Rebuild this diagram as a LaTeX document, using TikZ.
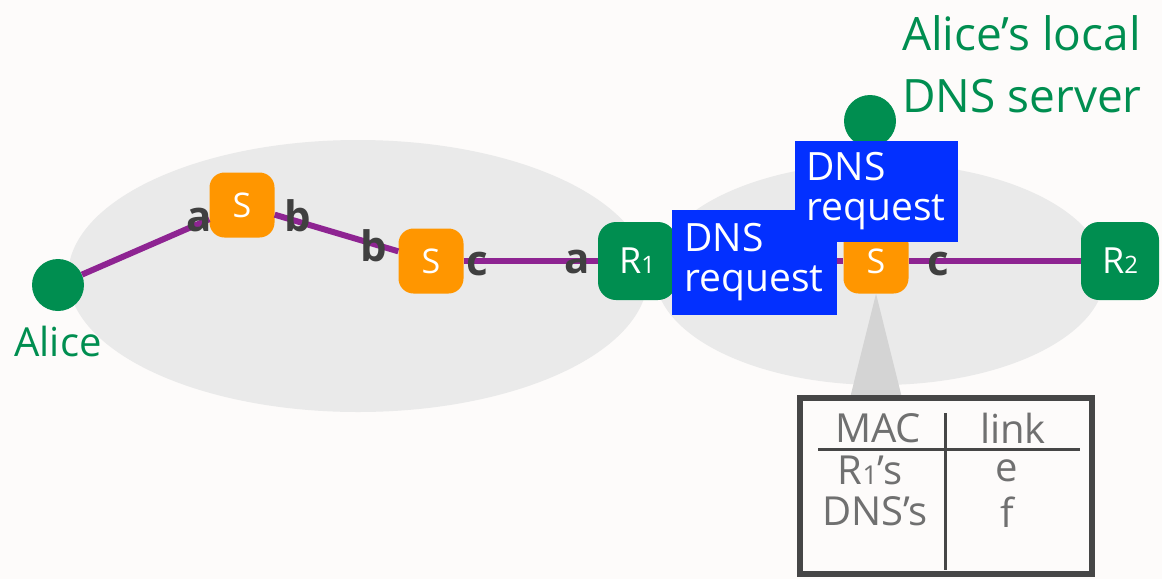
\documentclass[tikz,border=0pt]{standalone}
\usepackage{fontspec}
\setmainfont{Open Sans}
\usetikzlibrary{positioning}
\definecolor{pagebg}{RGB}{253,251,250}
\definecolor{cloudgray}{RGB}{234,234,234}
\definecolor{hostgreen}{RGB}{0,142,80}
\definecolor{sworange}{RGB}{255,150,0}
\definecolor{linkpurple}{RGB}{142,36,146}
\definecolor{pktblue}{RGB}{3,48,255}
\definecolor{portgray}{RGB}{64,64,64}
\definecolor{tblgray}{RGB}{112,112,112}
\definecolor{tblborder}{RGB}{70,70,70}
\definecolor{callgray}{RGB}{212,212,212}
\newcommand{\smallidx}[1]{{\fontsize{24}{24}\selectfont #1}}

\begin{document}
\begin{tikzpicture}[
  x=1pt, y=-1pt,
  node distance=200pt,
  hostnode/.style={circle, fill=hostgreen, minimum size=52pt, inner sep=0pt},
  swnode/.style={rectangle, rounded corners=15pt, fill=sworange, text=white, minimum size=65pt, inner sep=0pt, font=\fontsize{34}{40}\selectfont},
  rtnode/.style={rectangle, rounded corners=18pt, fill=hostgreen, text=white, minimum size=78pt, inner sep=0pt, font=\fontsize{36}{40}\selectfont},
  port/.style={text=portgray, inner sep=0pt, font=\fontsize{42}{44}\selectfont\bfseries},
  pkt/.style={rectangle, fill=pktblue, text=white, align=left, inner sep=0pt, font=\fontsize{39}{40}\selectfont},
  hosttext/.style={text=hostgreen, align=left, inner sep=0pt},
  tbltext/.style={text=tblgray, inner sep=0pt, font=\fontsize{40}{40}\selectfont},
  link/.style={draw=linkpurple, line width=6pt}
]
\useasboundingbox[fill=pagebg] (0,0) rectangle (1162,579);

% Subnets
\fill[cloudgray] (358,276) ellipse [x radius=290, y radius=136];
\fill[cloudgray] (880,274) ellipse [x radius=225, y radius=111];

% Hosts, switches and routers
\node[hostnode] (alice) at (58,285) {};
\node[swnode] (s1) at (242,205) {S};
\node[swnode] (s2) at (431,261) {S};
\node[rtnode, right of=s2, node distance=206pt] (r1) {R\smallidx{1}};
\node[swnode, right of=r1, node distance=239pt] (s3) {S};
\node[rtnode, right of=s3, node distance=244pt] (r2) {R\smallidx{2}};
\node[hostnode] (dns) at (870,121) {};

\draw[link] (alice) -- (s1);
\draw[link] (s1) -- (s2);
\draw[link] (s2) -- (r1);
\draw[link] (r1) -- (s3);
\draw[link] (s3) -- (r2);

% Interfaces
\node[port] (p1) at (199,220) {a};
\node[port] (p2) at (298,216) {b};
\node[port] (p3) at (374,246) {b};
\node[port] (p4) at (477,264) {c};
\node[port] (p5) at (577,262) {a};
\node[port] (p6) at (938,264) {c};

% Frames on the wire
\node[pkt, minimum width=165pt, minimum height=105pt] (req1) at (754,262) {DNS\\request};
\node[pkt, minimum width=163pt, minimum height=101pt] (req2) at (876,191) {DNS\\request};

% Switch table
\fill[callgray] (s3.south) -- (902,398) -- (850,398) -- cycle;
\node[draw=tblborder, line width=6pt, fill=pagebg, minimum width=292pt, minimum height=176pt, inner sep=0pt] (tbl) at (946,486) {};
\draw[tblborder, line width=3pt] (818,449) -- (1080,449);
\draw[tblborder, line width=3pt] (945,413) -- (945,570);
\node[tbltext] (mac) at (878,428) {MAC};
\node[tbltext] (lnk) at (1013,428) {link};
\node[tbltext] (row1) at (870,470) {R{\fontsize{26}{26}\selectfont 1}’s};
\node[tbltext] (if1) at (1007,471) {e};
\node[tbltext] (row2) at (875,511) {DNS’s};
\node[tbltext] (if2) at (1007,512) {f};

% Labels
\node[hosttext, font=\fontsize{40}{40}\selectfont, below=15pt of alice] (alice_lbl) {Alice};
\node[hosttext, font=\fontsize{46}{62}\selectfont, anchor=north west] (dns_lbl) at (902,15) {Alice’s local\\DNS server};

\end{tikzpicture}
\end{document}
